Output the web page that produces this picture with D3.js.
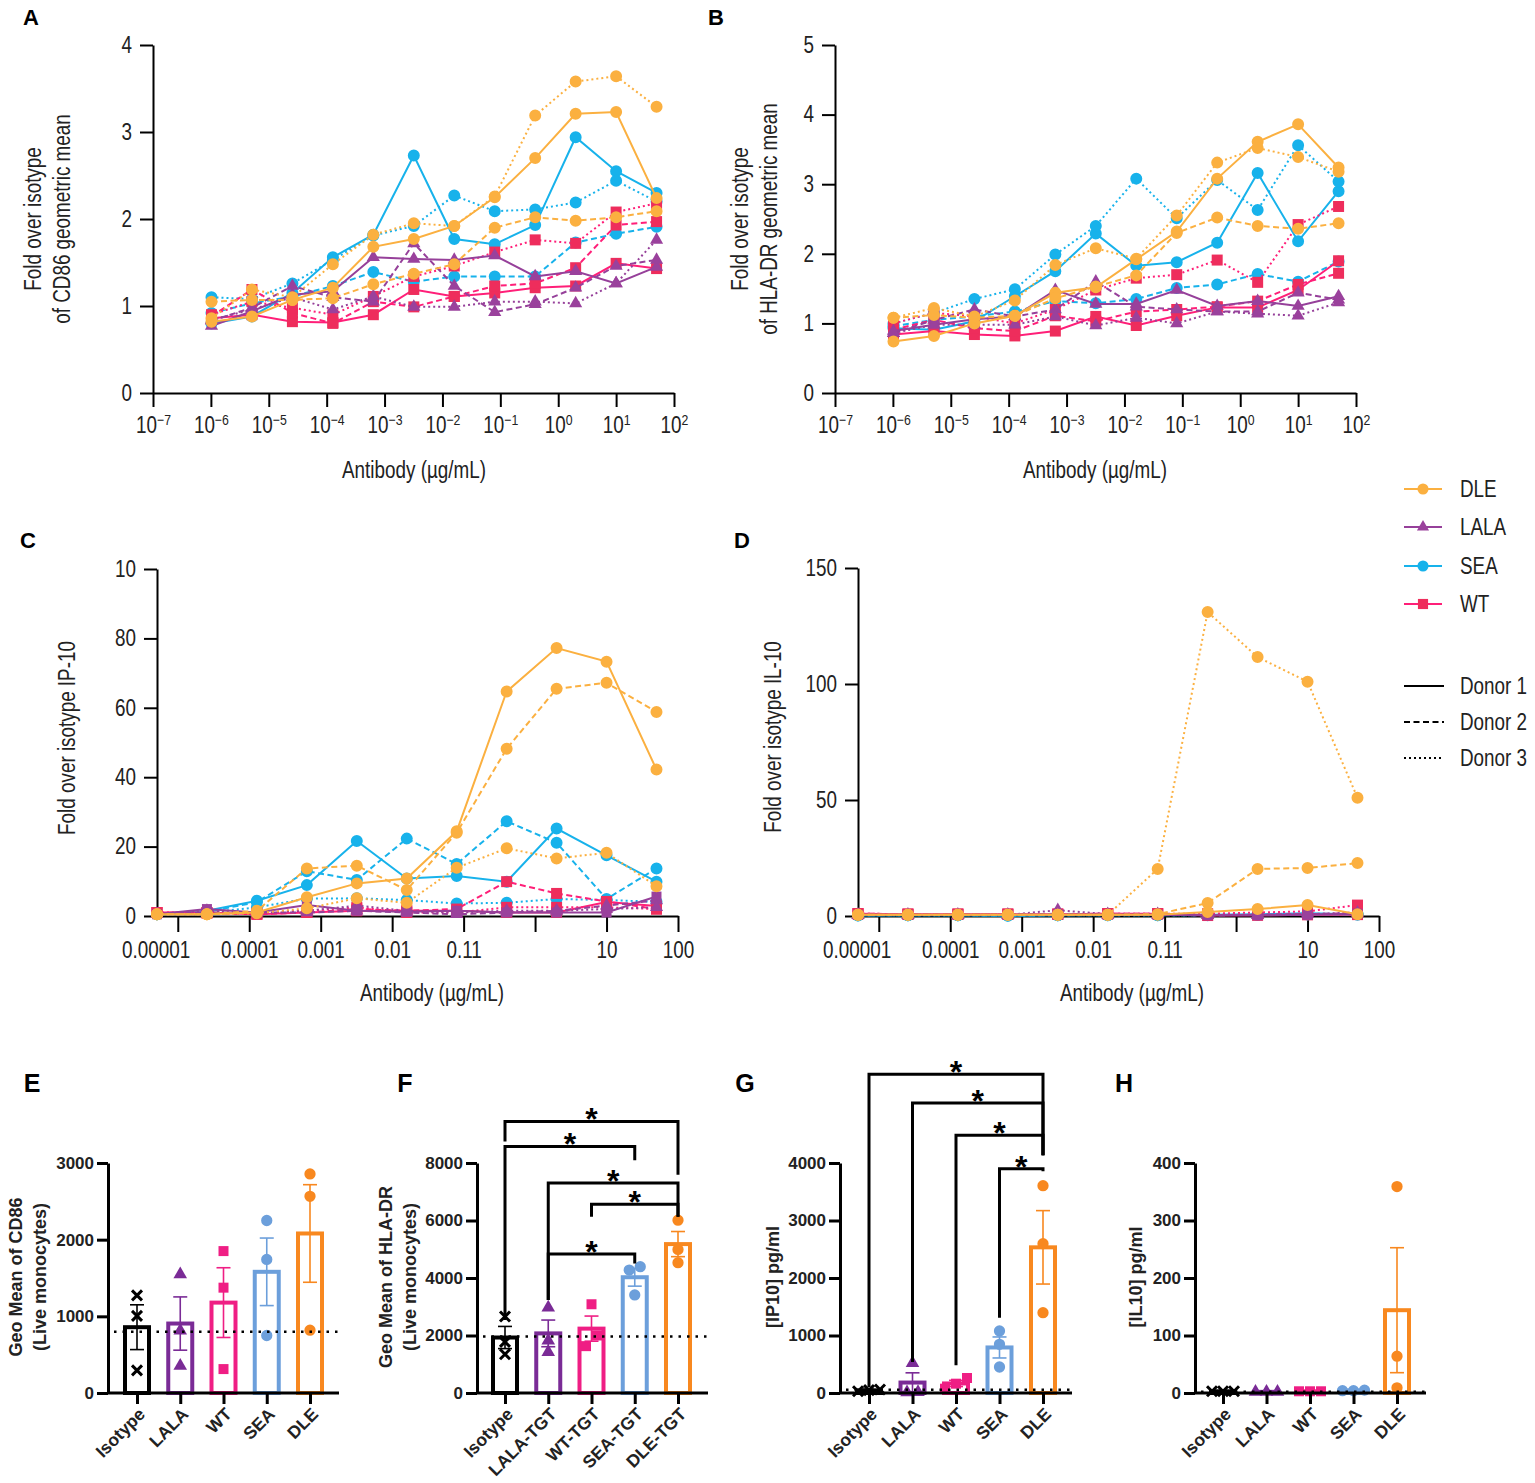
<!DOCTYPE html>
<html>
<head>
<meta charset="utf-8">
<script src="https://cdn.jsdelivr.net/npm/d3@7"></script>
<style>
  body { margin: 0; background: #fff; }
  svg text { font-family: "Liberation Sans", Arial, sans-serif; fill: #222; }
  svg .bold text, svg text.bold { font-family: "Liberation Sans", Arial, sans-serif; font-weight: bold; fill: #222; }
</style>
</head>
<body>
<svg id="fig" width="1535" height="1483"></svg>
<script>
// ---------- data ----------
// concentrations (ug/mL), 5-fold dilutions
const conc12 = [1.024e-6, 5.12e-6, 2.56e-5, 1.28e-4, 6.4e-4, 3.2e-3, 0.016, 0.08, 0.4, 2, 10, 50];
const conc11 = [5.12e-6, 2.56e-5, 1.28e-4, 6.4e-4, 3.2e-3, 0.016, 0.08, 0.4, 2, 10, 50];

const antibodies = ["DLE", "LALA", "SEA", "WT"];
const donors = ["Donor 1", "Donor 2", "Donor 3"];
const drawOrder = ["SEA", "WT", "LALA", "DLE"];

// A: fold over isotype of CD86 geometric mean (rows: donor 1, 2, 3)
const cd86DLE = [
  [0.82, 0.88, 1.07, 1.21, 1.68, 1.77, 1.92, 2.25, 2.70, 3.21, 3.23, 2.24],
  [1.05, 1.07, 1.07, 1.09, 1.25, 1.37, 1.48, 1.90, 2.02, 1.98, 2.02, 2.09],
  [0.86, 1.19, 1.10, 1.48, 1.82, 1.95, 1.92, 2.26, 3.19, 3.58, 3.64, 3.29]
];
const cd86LALA = [
  [0.77, 0.94, 1.13, 1.17, 1.56, 1.54, 1.53, 1.58, 1.34, 1.40, 1.26, 1.45],
  [0.83, 0.98, 1.23, 1.10, 1.05, 1.72, 1.23, 0.93, 1.02, 1.21, 1.46, 1.53],
  [0.84, 0.96, 1.10, 0.96, 1.11, 0.99, 0.99, 1.05, 1.05, 1.03, 1.26, 1.76]
];
const cd86SEA = [
  [0.80, 0.88, 1.15, 1.56, 1.82, 2.73, 1.77, 1.71, 1.93, 2.94, 2.55, 2.30],
  [0.92, 1.03, 1.11, 1.23, 1.39, 1.28, 1.34, 1.34, 1.34, 1.73, 1.83, 1.91],
  [1.10, 1.08, 1.26, 1.53, 1.81, 1.92, 2.27, 2.09, 2.11, 2.19, 2.44, 2.20]
];
const cd86WT = [
  [0.86, 0.90, 0.82, 0.81, 0.90, 1.19, 1.11, 1.15, 1.21, 1.23, 1.49, 1.43],
  [0.88, 1.19, 0.92, 0.80, 1.05, 0.99, 1.11, 1.23, 1.26, 1.44, 1.93, 1.97],
  [0.90, 1.05, 0.98, 0.90, 1.11, 1.34, 1.46, 1.62, 1.76, 1.72, 2.08, 2.18]
];

// B: fold over isotype of HLA-DR geometric mean
const hladrDLE = [
  [0.74, 0.82, 1.00, 1.11, 1.44, 1.52, 1.92, 2.32, 3.08, 3.61, 3.86, 3.24],
  [1.08, 1.12, 1.08, 1.11, 1.36, 1.53, 1.69, 2.30, 2.52, 2.40, 2.36, 2.44],
  [1.08, 1.22, 1.10, 1.33, 1.84, 2.08, 1.93, 2.55, 3.31, 3.52, 3.39, 3.18]
];
const hladrLALA = [
  [0.89, 0.98, 1.06, 1.10, 1.48, 1.28, 1.28, 1.48, 1.25, 1.32, 1.25, 1.39],
  [0.86, 1.05, 1.20, 1.10, 1.20, 1.60, 1.24, 1.20, 1.17, 1.17, 1.44, 1.34],
  [0.86, 0.98, 0.98, 0.98, 1.10, 0.97, 1.08, 1.00, 1.17, 1.14, 1.11, 1.30]
];
const hladrSEA = [
  [0.93, 0.91, 1.03, 1.39, 1.75, 2.29, 1.83, 1.88, 2.16, 3.16, 2.18, 2.90],
  [0.96, 1.05, 1.10, 1.17, 1.32, 1.29, 1.35, 1.51, 1.56, 1.71, 1.60, 1.89],
  [1.00, 1.15, 1.35, 1.49, 1.99, 2.40, 3.08, 2.51, 3.06, 2.63, 3.56, 3.04]
];
const hladrWT = [
  [0.84, 0.89, 0.84, 0.82, 0.89, 1.10, 0.97, 1.11, 1.23, 1.23, 1.48, 1.90],
  [0.91, 1.05, 0.93, 0.89, 1.11, 1.03, 1.17, 1.20, 1.24, 1.32, 1.56, 1.72],
  [1.00, 1.15, 1.10, 1.00, 1.20, 1.48, 1.65, 1.70, 1.91, 1.59, 2.42, 2.68]
];

// C: fold over isotype IP-10
const ip10DLE = [
  [0.5, 0.5, 1.0, 5.4, 9.4, 10.8, 24.4, 64.7, 77.2, 73.3, 42.2],
  [0.5, 0.5, 1.5, 13.7, 14.5, 7.5, 24.0, 48.2, 65.5, 67.2, 58.8],
  [0.5, 0.5, 0.8, 2.2, 5.1, 3.8, 13.9, 19.5, 16.6, 18.2, 8.6]
];
const ip10LALA = [
  [0.5, 2.0, 1.0, 3.2, 1.5, 1.2, 1.5, 1.0, 1.0, 1.0, 5.6],
  [0.5, 1.0, 1.0, 1.0, 1.5, 1.0, 0.5, 1.0, 1.5, 3.0, 4.5],
  [0.5, 1.5, 1.0, 1.5, 3.0, 1.5, 1.0, 1.5, 1.5, 2.0, 2.5]
];
const ip10SEA = [
  [0.5, 1.5, 4.4, 8.9, 21.6, 10.8, 11.5, 9.9, 25.2, 17.5, 9.9],
  [0.5, 1.2, 4.0, 12.9, 10.4, 22.3, 15.0, 27.3, 21.1, 4.9, 13.7],
  [0.5, 1.0, 2.5, 5.0, 5.1, 4.6, 3.6, 3.8, 4.9, 4.6, 4.1]
];
const ip10WT = [
  [1.0, 1.0, 0.5, 1.0, 1.5, 1.5, 1.5, 1.0, 1.0, 4.0, 2.9],
  [1.0, 0.8, 0.5, 1.0, 2.0, 1.5, 2.0, 9.9, 6.5, 4.2, 2.0],
  [1.0, 1.0, 0.8, 1.5, 2.5, 1.0, 1.0, 2.5, 2.5, 2.5, 2.0]
];

// D: fold over isotype IL-10
const il10DLE = [
  [0.5, 0.5, 0.5, 0.5, 0.5, 0.5, 0.5, 1.7, 3.0, 4.7, 0.8],
  [0.5, 0.5, 0.5, 0.5, 0.5, 0.5, 0.8, 5.6, 20.3, 20.7, 22.8],
  [0.5, 0.5, 0.5, 0.5, 0.5, 0.5, 20.3, 131, 111.6, 101, 51]
];
const il10LALA = [
  [0.5, 0.5, 0.5, 0.5, 0.5, 0.5, 0.5, 0.3, 0.3, 0.5, 1.0],
  [0.5, 0.5, 0.5, 0.5, 1.0, 0.5, 0.5, 0.3, 0.5, 0.8, 1.0],
  [0.5, 0.5, 0.5, 0.5, 2.5, 0.8, 0.8, 0.5, 0.5, 0.8, 1.5]
];
const il10SEA = [
  [0.2, 0.3, 0.3, 0.1, 0.3, 0.4, 0.4, 0.5, 0.8, 1.2, 0.8],
  [0.3, 0.3, 0.3, 0.2, 0.3, 0.3, 0.3, 0.3, 0.5, 0.6, 0.5],
  [0.3, 0.3, 0.3, 0.3, 0.3, 0.3, 0.3, 0.4, 0.5, 0.8, 1.0]
];
const il10WT = [
  [1.0, 0.8, 0.8, 0.8, 0.8, 1.0, 1.0, 0.2, 0.3, 0.5, 0.6],
  [1.0, 0.8, 0.8, 0.8, 0.8, 1.0, 1.0, 0.4, 0.5, 0.8, 1.2],
  [1.0, 0.8, 0.8, 0.8, 0.8, 1.0, 1.0, 1.0, 1.5, 2.0, 4.7]
];

const logTicks = [1e-7, 1e-6, 1e-5, 1e-4, 1e-3, 1e-2, 1e-1, 1, 10, 100];
const decTicks = [1e-5, 1e-4, 1e-3, 1e-2, 1e-1, 1, 10, 100];
const decLabels = ["0.00001", "0.0001", "0.001", "0.01", "0.11", "", "10", "100"];

// E-H: replicate values per group
const barCats = ["Isotype", "LALA", "WT", "SEA", "DLE"];
const barCatsTGT = ["Isotype", "LALA-TGT", "WT-TGT", "SEA-TGT", "DLE-TGT"];
const geoCD86 = [[1274, 1006, 295], [1548, 815, 355], [1851, 1374, 312], [2250, 1742, 750], [2857, 2566, 819]];
const geoHLADR = [[2660, 1780, 1350], [2971, 1827, 1422], [3087, 2000, 1630], [4393, 4277, 3410], [6012, 4994, 4532]];
const ip10pg = [[30, 50, 60], [520, 15, 10], [261, 162, 75], [1078, 846, 452], [3606, 2597, 1397]];
const il10pg = [[3, 3, 3], [2, 2, 2], [3, 3, 3], [4, 5, 4], [359, 64, 9]];
const refCD86 = 800, refHLADR = 1965, refIP10 = 58, refIL10 = 2;

// significance brackets: [from, to, bracket level, left leg end, right leg end]
const sigHLADR = [
  [0, 4, 9445, 8751, 7595],
  [0, 3, 8578, 2543, 8092],
  [1, 4, 7306, 3237, 6127],
  [2, 4, 6566, 6127, 6127],
  [1, 3, 4832, 3237, 4508]
];
const sigIP10 = [
  [0, 4, 5542, 104, 4133],
  [1, 4, 5043, 539, 4133],
  [2, 4, 4481, 481, 4133],
  [3, 4, 3901, 1310, 3855]
];

// ---------- styles ----------
const lineColor = { DLE: "#FBB040", LALA: "#96409A", SEA: "#17B2EB", WT: "#FF1F78" };
const markColor = { DLE: "#FBB040", LALA: "#9A419C", SEA: "#17B2EB", WT: "#EE2D5C" };
const markShape = { DLE: d3.symbolCircle, LALA: d3.symbolTriangle, SEA: d3.symbolCircle, WT: d3.symbolSquare };
const markSize = { DLE: 113, LALA: 75, SEA: 113, WT: 121 };
const donorDash = ["none", "6,3.5", "2,3"];
const barColor = ["#000000", "#7A2B96", "#EF1E84", "#6C9FDB", "#F8881F"];
const barShape = ["cross", d3.symbolTriangle, d3.symbolSquare, d3.symbolCircle, d3.symbolCircle];
const narrow = 0.82;

const svg = d3.select("#fig");

function styleAxis(g, w) {
  g.selectAll(".domain, .tick line").attr("stroke", "#000").attr("stroke-width", w);
  g.attr("font-family", null).attr("font-size", null);
}

function panelLetter(t, x, y, size) {
  svg.append("text").attr("class", "bold").attr("x", x).attr("y", y)
    .attr("text-anchor", "middle").attr("dominant-baseline", "central")
    .attr("font-size", size).style("fill", "#000").text(t);
}

function vTitle(lines, x0, cy, size, step, cls) {
  lines.forEach((t, i) => {
    svg.append("text").attr("class", cls)
      .attr("transform", `translate(${x0 + i * step},${cy}) rotate(-90)`)
      .attr("text-anchor", "middle").attr("dominant-baseline", "central")
      .attr("font-size", size).text(t);
  });
}

function linePanel(o) {
  const g = svg.append("g");
  const x = d3.scaleLog().domain(o.xDomain).range(o.xRange);
  const y = d3.scaleLinear().domain(o.yDomain).range(o.yRange);

  const xAxis = d3.axisBottom(x).tickValues(o.xTicks).tickSize(o.xTickSize).tickSizeOuter(0).tickPadding(o.xPad);
  const xg = g.append("g").attr("transform", `translate(0,${o.yRange[0]})`).call(xAxis);
  styleAxis(xg, 2);
  xg.selectAll("text").attr("font-size", 23).attr("class", "narrow").style("fill", "#222");
  if (o.sup) {
    xg.selectAll(".tick text").each(function (d) {
      const t = d3.select(this).text(null);
      t.append("tspan").text("10");
      const e = Math.round(Math.log10(d));
      t.append("tspan").attr("dy", "-0.55em").attr("font-size", 15).text(String(e).replace("-", "\u2212"));
    });
  } else {
    xg.selectAll(".tick text").text((d, i) => o.xLabels[i]).attr("dx", (d, i) => i === 0 ? -27 : 0);
  }

  const yAxis = d3.axisLeft(y).tickValues(o.yTicks).tickSize(13).tickSizeOuter(0).tickPadding(8)
    .tickFormat(o.yFormat || (d => d));
  const yg = g.append("g").attr("transform", `translate(${o.xRange[0]},0)`).call(yAxis);
  styleAxis(yg, 2);
  yg.selectAll("text").attr("font-size", 23).attr("class", "narrow").style("fill", "#222");

  const line = d3.line().x(d => x(d[0])).y(d => y(d[1]));
  drawOrder.forEach(ab => {
    o.data[ab].forEach((vals, di) => {
      const pts = vals.map((v, i) => [o.conc[i], v]);
      g.append("path").datum(pts).attr("d", line)
        .attr("fill", "none").attr("stroke", lineColor[ab]).attr("stroke-width", 2)
        .attr("stroke-dasharray", donorDash[di]);
      const sq = o.lalaSquare && ab === "LALA" && di === 0;
      const shape = sq ? d3.symbolSquare : markShape[ab];
      g.selectAll(null).data(pts).join("path")
        .attr("transform", d => `translate(${x(d[0])},${y(d[1])})`)
        .attr("d", d3.symbol().type(shape).size(sq ? 100 : markSize[ab]))
        .attr("fill", markColor[ab]);
    });
  });

  svg.append("text").attr("class", "narrow").attr("x", o.xTitle[0]).attr("y", o.xTitle[1])
    .attr("text-anchor", "middle").attr("dominant-baseline", "central")
    .attr("font-size", 23).text("Antibody (\u00b5g/mL)");
  vTitle(o.yTitle, o.yTitleX, o.yTitleY, 23, 29, "narrow");
}

// A
linePanel({
  xDomain: [1e-7, 100], xRange: [153, 674], yDomain: [0, 4], yRange: [393, 45],
  xTicks: logTicks, sup: true, xTickSize: 14, xPad: 10, yTicks: [0, 1, 2, 3, 4],
  conc: conc12, data: { DLE: cd86DLE, LALA: cd86LALA, SEA: cd86SEA, WT: cd86WT },
  xTitle: [414, 470], yTitle: ["Fold over isotype", "of CD86 geometric mean"], yTitleX: 33, yTitleY: 219
});
// B
linePanel({
  xDomain: [1e-7, 100], xRange: [835, 1356], yDomain: [0, 5], yRange: [393, 45],
  xTicks: logTicks, sup: true, xTickSize: 14, xPad: 10, yTicks: [0, 1, 2, 3, 4, 5],
  conc: conc12, data: { DLE: hladrDLE, LALA: hladrLALA, SEA: hladrSEA, WT: hladrWT },
  xTitle: [1095, 470], yTitle: ["Fold over isotype", "of HLA-DR geometric mean"], yTitleX: 740, yTitleY: 219
});
// C
linePanel({
  xDomain: [5.12e-6, 100], xRange: [157, 678], yDomain: [0, 100], yRange: [916, 569],
  xTicks: decTicks, xLabels: decLabels, xTickSize: 16, xPad: 10, yTicks: [0, 20, 40, 60, 80, 100],
  yFormat: d => d === 100 ? "10" : d, lalaSquare: true,
  conc: conc11, data: { DLE: ip10DLE, LALA: ip10LALA, SEA: ip10SEA, WT: ip10WT },
  xTitle: [432, 993], yTitle: ["Fold over isotype IP-10"], yTitleX: 67, yTitleY: 738
});
// D
linePanel({
  xDomain: [5.12e-6, 100], xRange: [858, 1379], yDomain: [0, 150], yRange: [916, 568],
  xTicks: decTicks, xLabels: decLabels, xTickSize: 16, xPad: 10, yTicks: [0, 50, 100, 150],
  lalaSquare: true,
  conc: conc11, data: { DLE: il10DLE, LALA: il10LALA, SEA: il10SEA, WT: il10WT },
  xTitle: [1132, 993], yTitle: ["Fold over isotype IL-10"], yTitleX: 773, yTitleY: 737
});

// legend
const leg = svg.append("g");
const legY = [489, 527, 566, 604];
antibodies.forEach((ab, i) => {
  leg.append("line").attr("x1", 1404).attr("x2", 1442).attr("y1", legY[i]).attr("y2", legY[i])
    .attr("stroke", lineColor[ab]).attr("stroke-width", 2);
  leg.append("path").attr("transform", `translate(1423,${legY[i]})`)
    .attr("d", d3.symbol().type(markShape[ab]).size(markSize[ab] * 0.85)).attr("fill", markColor[ab]);
  leg.append("text").attr("class", "narrow").attr("x", 1460).attr("y", legY[i]).attr("dominant-baseline", "central")
    .attr("font-size", 23).text(ab);
});
const donY = [686, 722, 758];
donors.forEach((dn, i) => {
  leg.append("line").attr("x1", 1404).attr("x2", 1444).attr("y1", donY[i]).attr("y2", donY[i])
    .attr("stroke", "#000").attr("stroke-width", 2.2).attr("stroke-dasharray", donorDash[i]);
  leg.append("text").attr("class", "narrow").attr("x", 1460).attr("y", donY[i]).attr("dominant-baseline", "central")
    .attr("font-size", 23).text(dn);
});

// ---------- bar panels ----------
function swarm(vals, y, gap) {
  const idx = vals.map((v, i) => i).sort((a, b) => vals[a] - vals[b]);
  const off = vals.map(() => 0);
  let cl = [idx[0]];
  const flush = () => cl.forEach((k, j) => { off[k] = (j - (cl.length - 1) / 2) * gap; });
  for (let j = 1; j < idx.length; j++) {
    if (Math.abs(y(vals[idx[j]]) - y(vals[idx[j - 1]])) < gap) cl.push(idx[j]);
    else { flush(); cl = [idx[j]]; }
  }
  flush();
  return off;
}

function barPanel(o) {
  const g = svg.append("g").attr("class", "bold");
  const x = d3.scalePoint().domain(o.cats).range(o.xRange);
  const y = d3.scaleLinear().domain(o.yDomain).range([1393, 1163]);

  const yg = g.append("g").attr("transform", `translate(${o.axisX},0)`)
    .call(d3.axisLeft(y).tickValues(o.yTicks).tickSize(11).tickSizeOuter(0).tickPadding(3).tickFormat(d3.format("d")));
  styleAxis(yg, 3);
  yg.selectAll("text").attr("font-size", 17).style("fill", "#222");

  o.groups.forEach((vals, i) => {
    const cx = x(o.cats[i]);
    const m = d3.mean(vals);
    const se = d3.deviation(vals) / Math.sqrt(vals.length);
    const col = barColor[i];
    g.append("rect").attr("x", cx - 12).attr("width", 24)
      .attr("y", y(m)).attr("height", y(0) - y(m))
      .attr("fill", "#fff").attr("stroke", col).attr("stroke-width", 4);
    g.append("line").attr("x1", cx).attr("x2", cx).attr("y1", y(m + se)).attr("y2", y(m - se))
      .attr("stroke", col).attr("stroke-width", 1.6);
    [m + se, m - se].forEach(v => g.append("line").attr("x1", cx - 7).attr("x2", cx + 7)
      .attr("y1", y(v)).attr("y2", y(v)).attr("stroke", col).attr("stroke-width", 1.6));
    const off = swarm(vals, y, 11);
    vals.forEach((v, k) => {
      const px = cx + off[k], py = y(v);
      if (barShape[i] === "cross") {
        g.append("path").attr("d", `M${px - 5},${py - 5}L${px + 5},${py + 5}M${px + 5},${py - 5}L${px - 5},${py + 5}`)
          .attr("stroke", col).attr("stroke-width", 3);
      } else {
        g.append("path").attr("transform", `translate(${px},${py})`)
          .attr("d", d3.symbol().type(barShape[i]).size(barShape[i] === d3.symbolTriangle ? 80 : 100))
          .attr("fill", col);
      }
    });
  });

  // reference line
  g.append("line").attr("x1", o.axisX + 6).attr("x2", o.xEnd).attr("y1", y(o.ref)).attr("y2", y(o.ref))
    .attr("stroke", "#000").attr("stroke-width", 2.5).attr("stroke-dasharray", "2.5,6");

  const xg = g.append("g").attr("transform", "translate(0,1393)")
    .call(d3.axisBottom(x).tickSize(11).tickSizeOuter(0).tickFormat(""));
  xg.select(".domain").attr("d", `M${o.axisX},0H${o.xEnd}`);
  styleAxis(xg, 3);

  o.cats.forEach(c => {
    g.append("text").attr("transform", `translate(${x(c) + 5},${1411}) rotate(-45)`)
      .attr("text-anchor", "end").attr("dominant-baseline", "central")
      .attr("font-size", 17.5).text(c);
  });

  (o.sig || []).forEach(s => {
    const x1 = x(o.cats[s[0]]), x2 = x(o.cats[s[1]]), yt = y(s[2]);
    g.append("path").attr("d", `M${x1},${y(s[3])}V${yt}H${x2}V${y(s[4])}`)
      .attr("fill", "none").attr("stroke", "#000").attr("stroke-width", 3);
    g.append("text").attr("x", (x1 + x2) / 2).attr("y", yt + 9).attr("text-anchor", "middle")
      .attr("font-size", 32).style("fill", "#000").text("*");
  });

  vTitle(o.title, o.titleX, 1277, 18, 24, "bold");
}

barPanel({
  cats: barCats, xRange: [137, 310], axisX: 108, xEnd: 339, yDomain: [0, 3000], yTicks: [0, 1000, 2000, 3000],
  groups: geoCD86, ref: refCD86, title: ["Geo Mean of CD86", "(Live monocytes)"], titleX: 16
});
barPanel({
  cats: barCatsTGT, xRange: [505, 678], axisX: 477, xEnd: 708, yDomain: [0, 8000], yTicks: [0, 2000, 4000, 6000, 8000],
  groups: geoHLADR, ref: refHLADR, sig: sigHLADR, title: ["Geo Mean of HLA-DR", "(Live monocytes)"], titleX: 386
});
barPanel({
  cats: barCats, xRange: [869, 1043], axisX: 840, xEnd: 1072, yDomain: [0, 4000], yTicks: [0, 1000, 2000, 3000, 4000],
  groups: ip10pg, ref: refIP10, sig: sigIP10, title: ["[IP10] pg/ml"], titleX: 773
});
barPanel({
  cats: barCats, xRange: [1223, 1397], axisX: 1195, xEnd: 1426, yDomain: [0, 400], yTicks: [0, 100, 200, 300, 400],
  groups: il10pg, ref: refIL10, title: ["[IL10] pg/ml"], titleX: 1136
});

panelLetter("A", 31, 17, 22);
panelLetter("B", 716, 17, 22);
panelLetter("C", 28, 540, 22);
panelLetter("D", 742, 540, 22);
panelLetter("E", 32, 1083, 25);
panelLetter("F", 405, 1083, 25);
panelLetter("G", 745, 1083, 25);
panelLetter("H", 1124, 1083, 25);

// condensed look for the dose-response panels: squeeze each text horizontally about its anchor
svg.selectAll("text.narrow").each(function () {
  const t = d3.select(this);
  const ax = +(t.attr("x") || 0);
  const prev = t.attr("transform") || "";
  t.attr("transform", `${prev} translate(${ax},0) scale(${narrow},1) translate(${-ax},0)`);
});
</script>
</body>
</html>
